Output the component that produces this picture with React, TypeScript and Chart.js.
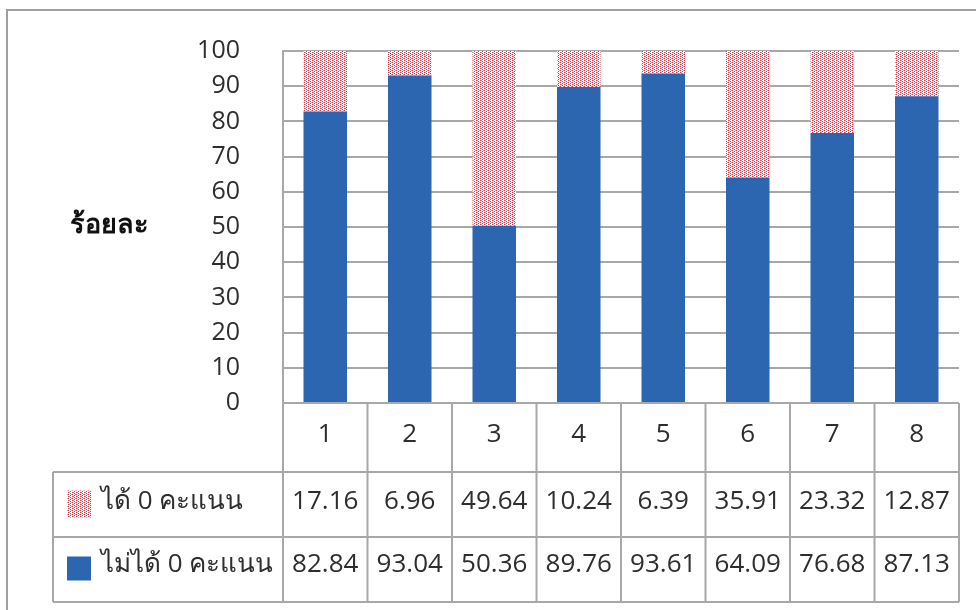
import React, { useEffect, useRef } from "react";
import { Chart, registerables } from "chart.js";

Chart.register(...registerables);

// ---- Data ----
const categories = ["1", "2", "3", "4", "5", "6", "7", "8"];
const zeroScore = [17.16, 6.96, 49.64, 10.24, 6.39, 35.91, 23.32, 12.87];
const nonZeroScore = [82.84, 93.04, 50.36, 89.76, 93.61, 64.09, 76.68, 87.13];
const zeroLabel = "ได้ 0 คะแนน";
const nonZeroLabel = "ไม่ได้ 0 คะแนน";
const yTitle = "ร้อยละ";
const yMin = 0;
const yMax = 100;
const yStep = 10;

const FONT = "'Open Sans', 'DejaVu Sans', sans-serif";
const TEXT = "#2E2E2E";
const LINE = "#A8A8A8";
const BLUE = "#2D66B0";

function makePattern(): CanvasPattern | string {
  const c = document.createElement("canvas");
  c.width = 4;
  c.height = 4;
  const g = c.getContext("2d");
  if (!g) return "#E8A0A8";
  g.fillStyle = "#ffffff";
  g.fillRect(0, 0, 4, 4);
  g.fillStyle = "#DC3A4C";
  g.fillRect(0, 0, 1, 1);
  g.fillRect(0, 2, 1, 1);
  g.fillRect(2, 1, 1, 1);
  g.fillRect(2, 3, 1, 1);
  g.fillStyle = "#EE98A2";
  g.fillRect(1, 0, 1, 1);
  g.fillRect(3, 2, 1, 1);
  const p = g.createPattern(c, "repeat");
  return p || "#E8A0A8";
}

export default function App() {
  const ref = useRef<HTMLCanvasElement | null>(null);

  useEffect(() => {
    if (!ref.current) return;
    const pattern = makePattern();

    const tablePlugin = {
      id: "tablePlugin",
      beforeDraw(chart: any) {
        const ctx = chart.ctx as CanvasRenderingContext2D;
        ctx.save();
        ctx.fillStyle = "#ffffff";
        ctx.fillRect(0, 0, chart.width, chart.height);
        ctx.strokeStyle = "#A0A0A0";
        ctx.lineWidth = 2;
        ctx.strokeRect(7, 10, 1100, 1100);
        ctx.restore();
      },
      afterDraw(chart: any) {
        const ctx = chart.ctx as CanvasRenderingContext2D;
        const area = chart.chartArea;
        const xs = chart.scales.x;
        const ys = chart.scales.y;
        const n = categories.length;
        const colW = (area.right - area.left) / n;
        const top = area.bottom;
        const r1 = top + 69;
        const r2 = r1 + 65;
        const r3 = r2 + 65;
        const legendLeft = 53;

        ctx.save();
        // y-axis title
        ctx.fillStyle = "#111111";
        ctx.font = `bold 27px ${FONT}`;
        ctx.textAlign = "left";
        ctx.textBaseline = "middle";
        const midY = ys.getPixelForValue(50) - 2;
        ctx.fillText(yTitle, 70, midY);

        // table lines
        ctx.strokeStyle = LINE;
        ctx.lineWidth = 2;
        ctx.beginPath();
        ctx.moveTo(area.left, top);
        ctx.lineTo(area.right, top);
        for (const yy of [r1, r2, r3]) {
          ctx.moveTo(legendLeft, yy);
          ctx.lineTo(area.right, yy);
        }
        for (let i = 0; i <= n; i++) {
          const xx = area.left + i * colW;
          ctx.moveTo(xx, top);
          ctx.lineTo(xx, r3);
        }
        ctx.moveTo(legendLeft, r1);
        ctx.lineTo(legendLeft, r3);
        ctx.stroke();

        // header + values
        ctx.fillStyle = TEXT;
        ctx.font = `26px ${FONT}`;
        ctx.textAlign = "center";
        ctx.textBaseline = "middle";
        for (let i = 0; i < n; i++) {
          const cx = xs.getPixelForValue(i);
          ctx.fillText(categories[i], cx, (top + r1) / 2 - 3);
          ctx.fillText(zeroScore[i].toFixed(2), cx, (r1 + r2) / 2 - 3);
          ctx.fillText(nonZeroScore[i].toFixed(2), cx, (r2 + r3) / 2 - 5);
        }

        // legend keys
        ctx.fillStyle = pattern as any;
        ctx.fillRect(67, (r1 + r2) / 2 - 14, 24, 27);
        ctx.fillStyle = BLUE;
        ctx.fillRect(67, (r2 + r3) / 2 - 13, 24, 24);
        ctx.fillStyle = TEXT;
        ctx.textAlign = "left";
        ctx.font = `26px ${FONT}`;
        ctx.fillText(zeroLabel, 101, (r1 + r2) / 2 - 3);
        ctx.fillText(nonZeroLabel, 101, (r2 + r3) / 2 - 5);
        ctx.restore();
      },
    };

    const chart = new Chart(ref.current, {
      type: "bar",
      data: {
        labels: categories,
        datasets: [
          {
            label: nonZeroLabel,
            data: nonZeroScore,
            backgroundColor: BLUE,
            borderWidth: 0,
            barPercentage: 0.515,
            categoryPercentage: 1,
          },
          {
            label: zeroLabel,
            data: zeroScore,
            backgroundColor: pattern as any,
            borderWidth: 0,
            barPercentage: 0.515,
            categoryPercentage: 1,
          },
        ],
      },
      options: {
        responsive: false,
        animation: false,
        devicePixelRatio: 1,
        layout: { padding: { top: 51, right: 17, bottom: 207, left: 0 } },
        plugins: {
          legend: { display: false },
          tooltip: { enabled: false },
        },
        scales: {
          x: {
            stacked: true,
            display: false,
          },
          y: {
            stacked: true,
            min: yMin,
            max: yMax,
            afterFit: (scale: any) => {
              scale.width = 283;
              scale.paddingTop = 0;
              scale.paddingBottom = 0;
            },
            ticks: {
              stepSize: yStep,
              padding: 43,
              color: TEXT,
              font: { family: FONT, size: 25 },
            },
            grid: {
              color: LINE,
              lineWidth: 2,
              drawTicks: false,
              tickLength: 0,
            },
            border: { display: true, color: LINE, width: 2 },
          },
        },
      },
      plugins: [tablePlugin],
    } as any);

    return () => chart.destroy();
  }, []);

  return (
    <div style={{ position: "fixed", left: 0, top: 0, width: 976, height: 610, background: "#fff" }}>
      <canvas ref={ref} width={976} height={610} style={{ display: "block", width: 976, height: 610 }} />
    </div>
  );
}
